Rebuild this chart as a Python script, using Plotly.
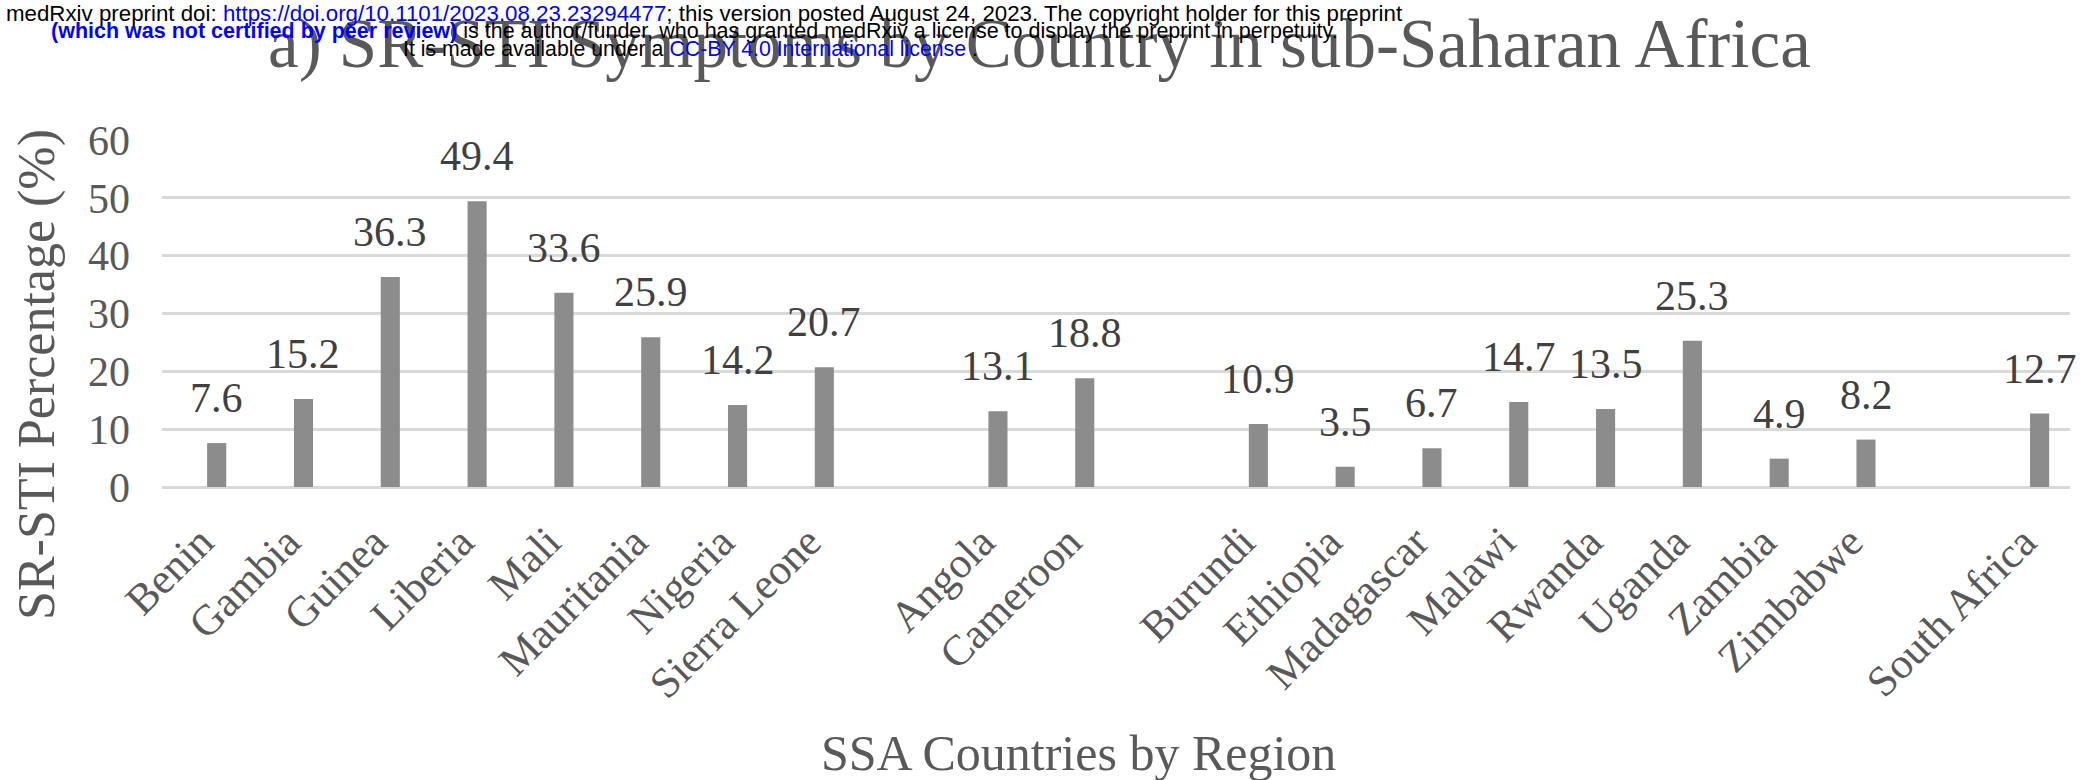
import plotly.graph_objects as go

categories = ["Benin", "Gambia", "Guinea", "Liberia", "Mali", "Mauritania", "Nigeria", "Sierra Leone",
              " ", "Angola", "Cameroon", "  ",
              "Burundi", "Ethiopia", "Madagascar", "Malawi", "Rwanda", "Uganda", "Zambia", "Zimbabwe",
              "   ", "South Africa"]
values = [7.6, 15.2, 36.3, 49.4, 33.6, 25.9, 14.2, 20.7,
          None, 13.1, 18.8, None,
          10.9, 3.5, 6.7, 14.7, 13.5, 25.3, 4.9, 8.2,
          None, 12.7]
y_ticks = [0, 10, 20, 30, 40, 50, 60]

title_text = "a) SR-STI Symptoms by Country in sub-Saharan Africa"
x_title = "SSA Countries by Region"
y_title = "SR-STI Percentage (%)"

W, H = 2081, 780
L, R, T, B = 162, 11, 140, 293
pw, ph = W - L - R, H - T - B

def sx(px):
    return (px - L) / pw

def sy(py):
    return (H - B - py) / ph

SERIF = "Liberation Serif, Times New Roman, serif"
SANS = "Liberation Sans, Arial, sans-serif"
GRAY = "#595959"

fig = go.Figure()
fig.add_trace(go.Bar(x=categories, y=values, width=0.22,
                     marker=dict(color="#8c8c8c", line=dict(width=0)),
                     hoverinfo="skip"))

annotations = []
for c, v in zip(categories, values):
    if v is None:
        continue
    annotations.append(dict(x=c, y=v, xref="x", yref="y", text=f"{v}", showarrow=False,
                            yanchor="bottom", yshift=20,
                            font=dict(family=SERIF, size=42, color="#404040")))

annotations.append(dict(x=sx(1039), y=sy(44), xref="paper", yref="paper", text=title_text,
                        showarrow=False, xanchor="center", yanchor="middle",
                        font=dict(family=SERIF, size=69, color=GRAY)))
annotations.append(dict(x=sx(37), y=sy(375), xref="paper", yref="paper", text=y_title,
                        showarrow=False, textangle=-90, xanchor="center", yanchor="middle",
                        font=dict(family=SERIF, size=52, color=GRAY)))
annotations.append(dict(x=sx(1078), y=sy(753), xref="paper", yref="paper", text=x_title,
                        showarrow=False, xanchor="center", yanchor="middle",
                        font=dict(family=SERIF, size=50, color=GRAY)))

BLUE = "#0000ff"
header = [
    (4, 13, 22.3, "medRxiv preprint doi: <span style='color:%s'>https://doi.org/10.1101/2023.08.23.23294477</span>; this version posted August 24, 2023. The copyright holder for this preprint" % BLUE),
    (49, 31, 21.5, "<span style='color:%s'><b>(which was not certified by peer review)</b></span> is the author/funder, who has granted medRxiv a license to display the preprint in perpetuity." % BLUE),
    (401, 49, 21.3, "It is made available under a <span style='color:%s'>CC-BY 4.0 International license</span> ." % BLUE),
]
for hx, hy, fs, txt in header:
    annotations.append(dict(x=sx(hx), y=sy(hy), xref="paper", yref="paper", text=txt,
                            showarrow=False, xanchor="left", yanchor="middle",
                            font=dict(family=SANS, size=fs, color="#000000")))

fig.update_layout(
    width=W, height=H,
    margin=dict(l=L, r=R, t=T, b=B, pad=0),
    paper_bgcolor="white", plot_bgcolor="white",
    showlegend=False,
    bargap=0.78,
    annotations=annotations,
    xaxis=dict(type="category", categoryorder="array", categoryarray=categories,
               range=[-0.63, 21.35], tickangle=-45, showgrid=False, zeroline=False,
               showline=False, ticks="", ticklabelstandoff=20, ticklabelshift=-16,
               tickfont=dict(family=SERIF, size=43, color=GRAY)),
    yaxis=dict(range=[0, 60], tickvals=y_ticks, showgrid=True, gridcolor="#d9d9d9", gridwidth=2.5,
               zeroline=True, zerolinecolor="#d9d9d9", zerolinewidth=2.5, showline=False,
               ticks="", ticklabelstandoff=31,
               tickfont=dict(family=SERIF, size=42, color=GRAY)),
)

fig.write_html("out.html",
               config={"displayModeBar": False},
               post_script="document.body.style.margin='0px';document.body.style.padding='0px';")
